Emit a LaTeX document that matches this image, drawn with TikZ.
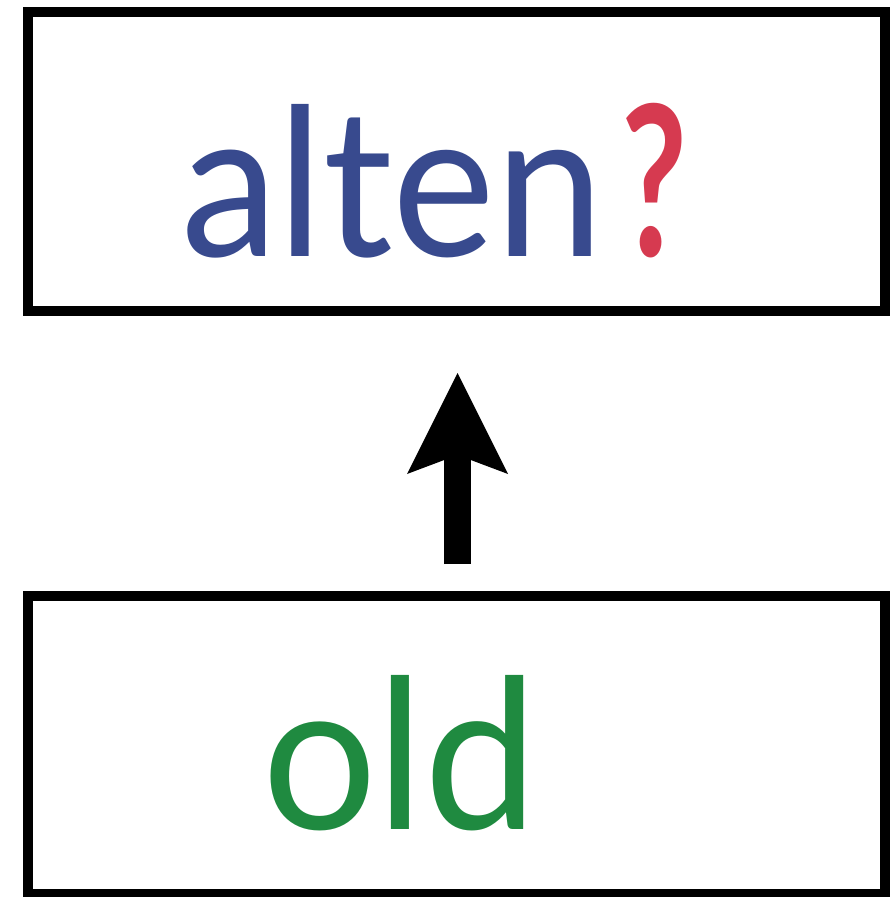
\documentclass[tikz,border=0pt]{standalone}
\usepackage{fontspec}
\setmainfont{Lato}
\usetikzlibrary{arrows.meta,calc}
\definecolor{wordblue}{HTML}{384A8E}
\definecolor{qred}{HTML}{D63A50}
\definecolor{wordgreen}{HTML}{1F8A40}
\tikzset{
  box/.style={draw=black, line width=10pt, rectangle, inner sep=0pt, minimum width=857pt},
  word/.style={anchor=base west, inner sep=0pt, outer sep=0pt},
  bigarrow/.style={-{Stealth[length=101pt,width=101pt,inset=19pt,line width=0pt]}, line width=27pt}
}
\begin{document}
\begin{tikzpicture}[x=1pt,y=-1pt]
\useasboundingbox (0,0) rectangle (889,897);
\node[box, minimum height=299pt] (alt) at (456.5,161.5) {};
\node[box, minimum height=298pt] (old) at (456.5,745) {};
\node[word, text=wordblue] (altword) at (181,256) {\resizebox{423pt}{152pt}{alten}};
\node[word, text=qred] (qmark) at (621,256) {\resizebox{66pt}{153pt}{\bfseries ?}};
\node[word, text=wordgreen] (oldword) at (262,829) {\resizebox{276pt}{154pt}{old}};
\coordinate (tail) at (457.5,564);
\coordinate (tip) at (457.5,373);
\draw[bigarrow] (tail) -- (tip);
\end{tikzpicture}
\end{document}
